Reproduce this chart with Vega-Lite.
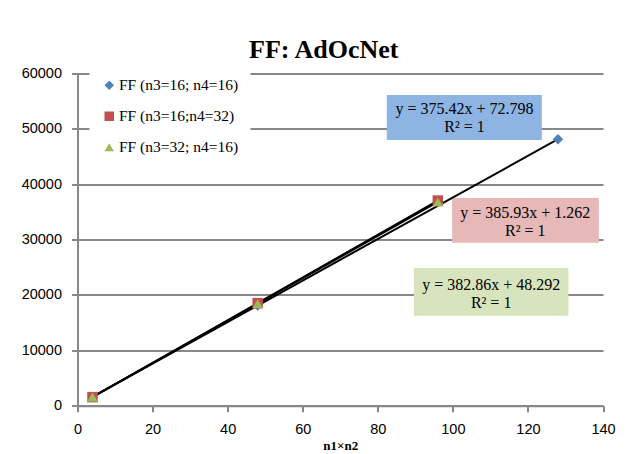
{
  "$schema": "https://vega.github.io/schema/vega-lite/v6.json",
  "autosize": "none",
  "width": 525.5,
  "height": 332.2,
  "padding": {"left": 77.5, "top": 73.5, "right": 26, "bottom": 48.3},
  "background": "white",
  "title": {
    "text": "FF: AdOcNet",
    "font": "Liberation Serif",
    "fontSize": 26,
    "fontWeight": "bold",
    "color": "black",
    "anchor": "middle",
    "frame": "group",
    "baseline": "alphabetic",
    "offset": 9,
    "dx": -16.5,
    "dy": 27
  },
  "config": {
    "view": {"stroke": null},
    "axis": {
      "labelFont": "Liberation Sans",
      "labelFontSize": 14.5,
      "labelColor": "black",
      "gridColor": "#888888",
      "gridWidth": 2,
      "domainColor": "#888888",
      "domainWidth": 2,
      "tickColor": "#888888",
      "tickWidth": 2,
      "tickSize": 6
    }
  },
  "datasets": {
    "points": [
      {"series": "FF (n3=16; n4=16)", "n": 4, "v": 1574},
      {"series": "FF (n3=16; n4=16)", "n": 48, "v": 18093},
      {"series": "FF (n3=16; n4=16)", "n": 128, "v": 48126},
      {"series": "FF (n3=16;n4=32)", "n": 4, "v": 1545},
      {"series": "FF (n3=16;n4=32)", "n": 48, "v": 18526},
      {"series": "FF (n3=16;n4=32)", "n": 96, "v": 37050},
      {"series": "FF (n3=32; n4=16)", "n": 4, "v": 1580},
      {"series": "FF (n3=32; n4=16)", "n": 48, "v": 18425},
      {"series": "FF (n3=32; n4=16)", "n": 96, "v": 36803}
    ],
    "labels": [
      {"fit": "s1", "x1": 82.4, "x2": 123.7, "y1": 56113, "y2": 47986, "tx": 103.1, "ty": 53530, "label": "y = 375.42x + 72.798|R² = 1"},
      {"fit": "s2", "x1": 99.8, "x2": 138.9, "y1": 37530, "y2": 29438, "tx": 119.3, "ty": 34748, "label": "y = 385.93x + 1.262|R² = 1"},
      {"fit": "s3", "x1": 89.6, "x2": 130.8, "y1": 24869, "y2": 16254, "tx": 110.2, "ty": 21799, "label": "y = 382.86x + 48.292|R² = 1"}
    ]
  },
  "layer": [
    {
      "data": {"name": "labels"},
      "transform": [{"filter": "datum.fit == 's1'"}],
      "mark": {"type": "rect", "color": "#8eb4e3"},
      "encoding": {
        "x": {"field": "x1", "type": "quantitative", "scale": {"domain": [0, 140]}, "axis": {"values": [0, 20, 40, 60, 80, 100, 120, 140], "grid": false, "title": "n1×n2", "titleFont": "Liberation Serif", "titleFontSize": 13, "titleFontWeight": "bold", "titleColor": "black", "titlePadding": 3, "labelPadding": 11, "labelFlush": false}},
        "x2": {"field": "x2"},
        "y": {"field": "y1", "type": "quantitative", "scale": {"domain": [0, 60000]}, "axis": {"values": [0, 10000, 20000, 30000, 40000, 50000, 60000], "title": null, "labelPadding": 10, "format": "d"}},
        "y2": {"field": "y2"}
      }
    },
    {
      "data": {"name": "labels"},
      "transform": [{"filter": "datum.fit == 's2'"}],
      "mark": {"type": "rect", "color": "#e6b8b7"},
      "encoding": {
        "x": {"field": "x1", "type": "quantitative"},
        "x2": {"field": "x2"},
        "y": {"field": "y1", "type": "quantitative"},
        "y2": {"field": "y2"}
      }
    },
    {
      "data": {"name": "labels"},
      "transform": [{"filter": "datum.fit == 's3'"}],
      "mark": {"type": "rect", "color": "#d7e4bd"},
      "encoding": {
        "x": {"field": "x1", "type": "quantitative"},
        "x2": {"field": "x2"},
        "y": {"field": "y1", "type": "quantitative"},
        "y2": {"field": "y2"}
      }
    },
    {
      "data": {"name": "labels"},
      "mark": {"type": "text", "font": "Liberation Serif", "fontSize": 16, "color": "black", "lineBreak": "|", "lineHeight": 17.5, "align": "center", "baseline": "middle"},
      "encoding": {
        "x": {"field": "tx", "type": "quantitative"},
        "y": {"field": "ty", "type": "quantitative"},
        "text": {"field": "label"}
      }
    },
    {
      "data": {"name": "points"},
      "mark": {"type": "line", "color": "black", "strokeWidth": 2},
      "encoding": {
        "x": {"field": "n", "type": "quantitative"},
        "y": {"field": "v", "type": "quantitative"},
        "detail": {"field": "series"}
      }
    },
    {
      "data": {"name": "points"},
      "mark": {"type": "point", "filled": true, "opacity": 1, "size": 110},
      "encoding": {
        "x": {"field": "n", "type": "quantitative"},
        "y": {"field": "v", "type": "quantitative"},
        "color": {"field": "series", "type": "nominal", "scale": {"domain": ["FF (n3=16; n4=16)", "FF (n3=16;n4=32)", "FF (n3=32; n4=16)"], "range": ["#4f81bd", "#c0504d", "#9bbb59"]}, "legend": {"title": null, "orient": "none", "legendX": 12, "legendY": -8, "fillColor": "white", "padding": 12, "labelFont": "Liberation Serif", "labelFontSize": 15.5, "labelColor": "black", "symbolSize": 90, "rowPadding": 14, "labelOffset": 2, "labelLimit": 300}},
        "shape": {"field": "series", "type": "nominal", "scale": {"domain": ["FF (n3=16; n4=16)", "FF (n3=16;n4=32)", "FF (n3=32; n4=16)"], "range": ["diamond", "square", "triangle-up"]}, "legend": {"title": null, "orient": "none", "legendX": 12, "legendY": -8, "fillColor": "white", "padding": 12, "labelFont": "Liberation Serif", "labelFontSize": 15.5, "labelColor": "black", "symbolSize": 90, "rowPadding": 14, "labelOffset": 2, "labelLimit": 300}}
      }
    }
  ]
}
